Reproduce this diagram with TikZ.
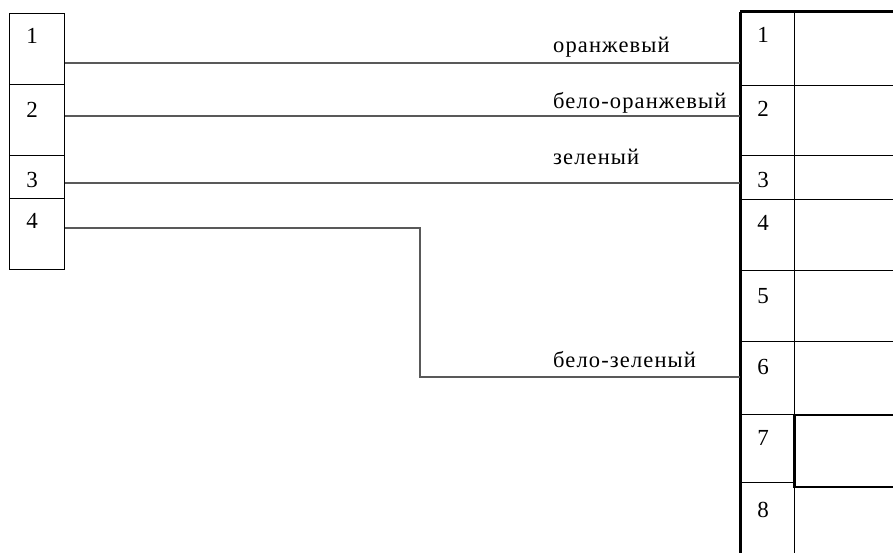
\documentclass[tikz,border=0pt]{standalone}
\usepackage{fontspec}
\setmainfont{Liberation Serif}
\newfontfamily\lblfont[LetterSpace=5]{Liberation Serif}
\begin{document}
\begin{tikzpicture}[x=1pt,y=-1pt,
  cell/.style={draw=black,line width=1.3pt,rectangle,inner sep=0pt,anchor=north west},
  num/.style={font=\fontsize{23}{23}\selectfont,anchor=base,inner sep=0pt},
  lbl/.style={font=\lblfont\fontsize{22.5}{22.5}\selectfont,anchor=base west,inner sep=0pt},
  wire/.style={draw=black!65,line width=2pt}]
\useasboundingbox (0,0) rectangle (893,553);
\clip (0,0) rectangle (893,553);
% left connector
\node[cell,minimum width=55pt,minimum height=71pt] (L1) at (9,13) {};
\node[cell,minimum width=55pt,minimum height=71pt] (L2) at (9,84) {};
\node[cell,minimum width=55pt,minimum height=43pt] (L3) at (9,155) {};
\node[cell,minimum width=55pt,minimum height=71pt] (L4) at (9,198) {};
\node[num] (nl1) at (32,44) {1};
\node[num] (nl2) at (32,118) {2};
\node[num] (nl3) at (32,188) {3};
\node[num] (nl4) at (32,229) {4};
% right connector, pin column
\node[cell,minimum width=54pt,minimum height=73pt] (R1) at (740,12) {};
\node[cell,minimum width=54pt,minimum height=70pt] (R2) at (740,85) {};
\node[cell,minimum width=54pt,minimum height=44pt] (R3) at (740,155) {};
\node[cell,minimum width=54pt,minimum height=71pt] (R4) at (740,199) {};
\node[cell,minimum width=54pt,minimum height=71pt] (R5) at (740,270) {};
\node[cell,minimum width=54pt,minimum height=73pt] (R6) at (740,341) {};
\node[cell,minimum width=54pt,minimum height=68pt] (R7) at (740,414) {};
\node[cell,minimum width=54pt,minimum height=80pt] (R8) at (740,482) {};
% right connector, second column
\node[cell,minimum width=120pt,minimum height=73pt] (S1) at (794,12) {};
\node[cell,minimum width=120pt,minimum height=70pt] (S2) at (794,85) {};
\node[cell,minimum width=120pt,minimum height=44pt] (S3) at (794,155) {};
\node[cell,minimum width=120pt,minimum height=71pt] (S4) at (794,199) {};
\node[cell,minimum width=120pt,minimum height=71pt] (S5) at (794,270) {};
\node[cell,minimum width=120pt,minimum height=73pt] (S6) at (794,341) {};
\node[cell,minimum width=120pt,minimum height=72pt,line width=1.6pt] (S7) at (794,414) {};
\node[cell,minimum width=120pt,minimum height=80pt] (S8) at (794,486) {};
\draw[line width=3pt] (R1.north west) -- (R8.south west);
\draw[line width=3pt] (R1.north west) -- (S1.north east);
\draw[line width=3pt] (S7.north west) -- (S7.south west);
\node[num] (nr1) at (763,43) {1};
\node[num] (nr2) at (763,117) {2};
\node[num] (nr3) at (763,188) {3};
\node[num] (nr4) at (763,230) {4};
\node[num] (nr5) at (763,303) {5};
\node[num] (nr6) at (763,374) {6};
\node[num] (nr7) at (763,445) {7};
\node[num] (nr8) at (763,517) {8};
% wires
\coordinate (bend1) at (420,228);
\coordinate (bend2) at (420,377);
\draw[wire] (L1.east |- 0,63) -- (R1.west |- 0,63);
\draw[wire] (L2.east |- 0,116) -- (R2.west |- 0,116);
\draw[wire] (L3.east |- 0,183) -- (R3.west |- 0,183);
\draw[wire] (L4.east |- bend1) -- (bend1) -- (bend2) -- (R6.west |- bend2);
% colour labels
\node[lbl] (c1) at (553,53) {оранжевый};
\node[lbl] (c2) at (553,109) {бело-оранжевый};
\node[lbl] (c3) at (553,165) {зеленый};
\node[lbl] (c4) at (553,367) {бело-зеленый};
\end{tikzpicture}
\end{document}
